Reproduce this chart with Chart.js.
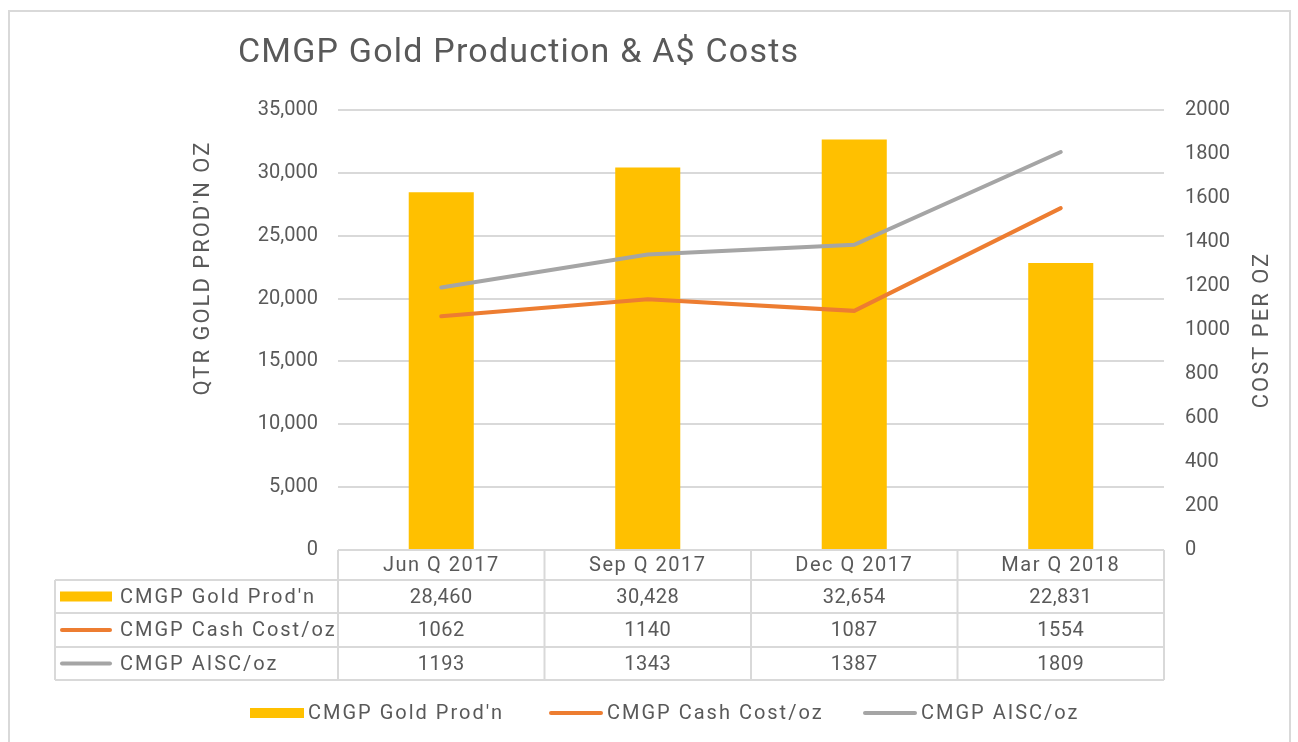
<!DOCTYPE html>
<html>
<head>
<meta charset="utf-8">
<title>CMGP Gold Production & A$ Costs</title>
<script src="https://cdn.jsdelivr.net/npm/chart.js@4.4.1/dist/chart.umd.min.js"></script>
<style>
  html, body { margin: 0; padding: 0; background: #fff; }
  #wrap { width: 1298px; height: 742px; position: relative; }
</style>
</head>
<body>
<div id="wrap"><canvas id="chart" width="1298" height="742"></canvas></div>
<script>
// datos del gráfico
const quarters = ['Jun Q 2017', 'Sep Q 2017', 'Dec Q 2017', 'Mar Q 2018'];
const goldProd = [28460, 30428, 32654, 22831];
const cashCost = [1062, 1140, 1087, 1554];
const aiscCost = [1193, 1343, 1387, 1809];
const prodTicks = [0, 5000, 10000, 15000, 20000, 25000, 30000, 35000];
const costTicks = [0, 200, 400, 600, 800, 1000, 1200, 1400, 1600, 1800, 2000];

const seriesNames = ['CMGP Gold Prod\'n', 'CMGP Cash Cost/oz', 'CMGP AISC/oz'];

const colors = {
    gold: '#FFC000',
    orange: '#ED7D31',
    gray: '#A5A5A5',
    text: '#595959',
    grid: '#D9D9D9'
};
const FONT = "Roboto, 'Liberation Sans', sans-serif";

// dibuja el título, los títulos de ejes, la tabla de datos y la leyenda
const decorPlugin = {
    id: 'decor',
    afterDraw(chart) {
        const ctx = chart.ctx;
        const area = chart.chartArea;
        ctx.save();

        // marco exterior
        ctx.strokeStyle = colors.grid;
        ctx.lineWidth = 2;
        ctx.strokeRect(9, 11, 1281, 760);

        // título
        ctx.fillStyle = colors.text;
        ctx.font = '34px ' + FONT;
        ctx.letterSpacing = '1.2px';
        ctx.textAlign = 'left';
        ctx.textBaseline = 'middle';
        ctx.fillText('CMGP Gold Production & A$ Costs', 238, 53);

        // títulos de ejes
        ctx.font = '22px ' + FONT;
        ctx.letterSpacing = '2px';
        ctx.textAlign = 'center';
        ctx.save();
        ctx.translate(203, 268);
        ctx.rotate(-Math.PI / 2);
        ctx.fillText('QTR GOLD PROD\'N OZ', 0, 0);
        ctx.restore();
        ctx.save();
        ctx.translate(1262, 330);
        ctx.rotate(-Math.PI / 2);
        ctx.fillText('COST PER OZ', 0, 0);
        ctx.restore();

        // tabla de datos
        const rows = [area.bottom, 580, 613, 647, 680];
        const tableLeft = 55;
        const colW = (area.right - area.left) / quarters.length;
        ctx.strokeStyle = colors.grid;
        ctx.lineWidth = 2;
        ctx.beginPath();
        ctx.moveTo(area.left, rows[0]); ctx.lineTo(area.right, rows[0]);
        for (let r = 1; r < rows.length; r++) {
            ctx.moveTo(tableLeft, rows[r]); ctx.lineTo(area.right, rows[r]);
        }
        ctx.moveTo(tableLeft, rows[1]); ctx.lineTo(tableLeft, rows[4]);
        for (let c = 0; c <= quarters.length; c++) {
            const x = area.left + c * colW;
            ctx.moveTo(x, rows[0]); ctx.lineTo(x, rows[4]);
        }
        ctx.stroke();

        ctx.fillStyle = colors.text;
        ctx.textAlign = 'center';
        const tableData = [
            goldProd.map(v => v.toLocaleString('en-US')),
            cashCost.map(String),
            aiscCost.map(String)
        ];
        quarters.forEach((q, i) => {
            const cx = area.left + (i + 0.5) * colW;
            ctx.font = '20px ' + FONT;
            ctx.letterSpacing = '1.5px';
            ctx.fillText(q, cx, (rows[0] + rows[1]) / 2 + 1);
            ctx.letterSpacing = '0.5px';
            tableData.forEach((row, r) => {
                ctx.fillText(row[i], cx, (rows[r + 1] + rows[r + 2]) / 2 + 1);
            });
        });

        // claves de la tabla
        ctx.textAlign = 'left';
        ctx.font = '20px ' + FONT;
        ctx.letterSpacing = '2px';
        seriesNames.forEach((name, r) => {
            const cy = (rows[r + 1] + rows[r + 2]) / 2;
            drawKey(ctx, r, 60, cy, 52);
            ctx.fillStyle = colors.text;
            ctx.fillText(name, 120, cy + 1);
        });

        // leyenda inferior
        const legendX = [250, 549, 863];
        seriesNames.forEach((name, r) => {
            drawKey(ctx, r, legendX[r], 713, 54);
            ctx.fillStyle = colors.text;
            ctx.fillText(name, legendX[r] + 58, 714);
        });

        ctx.restore();
    }
};

function drawKey(ctx, idx, x, cy, w) {
    if (idx === 0) {
        ctx.fillStyle = colors.gold;
        ctx.fillRect(x, cy - 5, w, 10);
    } else {
        ctx.strokeStyle = idx === 1 ? colors.orange : colors.gray;
        ctx.lineWidth = 4;
        ctx.lineCap = 'round';
        ctx.beginPath();
        ctx.moveTo(x + 2, cy);
        ctx.lineTo(x + w - 2, cy);
        ctx.stroke();
    }
}

new Chart(document.getElementById('chart'), {
    data: {
        labels: quarters,
        datasets: [
            {
                type: 'line',
                label: seriesNames[2],
                data: aiscCost,
                yAxisID: 'yCost',
                borderColor: colors.gray,
                borderWidth: 4,
                borderCapStyle: 'round',
                pointRadius: 0,
                tension: 0,
                order: 1
            },
            {
                type: 'line',
                label: seriesNames[1],
                data: cashCost,
                yAxisID: 'yCost',
                borderColor: colors.orange,
                borderWidth: 4,
                borderCapStyle: 'round',
                pointRadius: 0,
                tension: 0,
                order: 2
            },
            {
                type: 'bar',
                label: seriesNames[0],
                data: goldProd,
                yAxisID: 'yProd',
                backgroundColor: colors.gold,
                barPercentage: 0.315,
                categoryPercentage: 1,
                order: 3
            }
        ]
    },
    options: {
        responsive: false,
        animation: false,
        layout: { padding: { left: 258, right: 54, top: 110, bottom: 192 } },
        plugins: {
            legend: { display: false },
            title: { display: false },
            tooltip: { enabled: false }
        },
        scales: {
            x: {
                display: false,
                offset: true
            },
            yProd: {
                position: 'left',
                min: 0,
                max: 35000,
                afterBuildTicks: s => { s.ticks = prodTicks.map(v => ({ value: v })); },
                afterFit: s => { s.width = 80; },
                border: { display: false },
                grid: { color: colors.grid, lineWidth: 2, drawTicks: false },
                ticks: {
                    color: colors.text,
                    padding: 20,
                    font: { family: FONT, size: 20 },
                    callback: v => v.toLocaleString('en-US')
                }
            },
            yCost: {
                position: 'right',
                min: 0,
                max: 2000,
                afterBuildTicks: s => { s.ticks = costTicks.map(v => ({ value: v })); },
                afterFit: s => { s.width = 80; },
                border: { display: false },
                grid: { display: false, drawTicks: false },
                ticks: {
                    color: colors.text,
                    padding: 21,
                    font: { family: FONT, size: 20 },
                    callback: v => String(v)
                }
            }
        }
    },
    plugins: [decorPlugin]
});
</script>
</body>
</html>
